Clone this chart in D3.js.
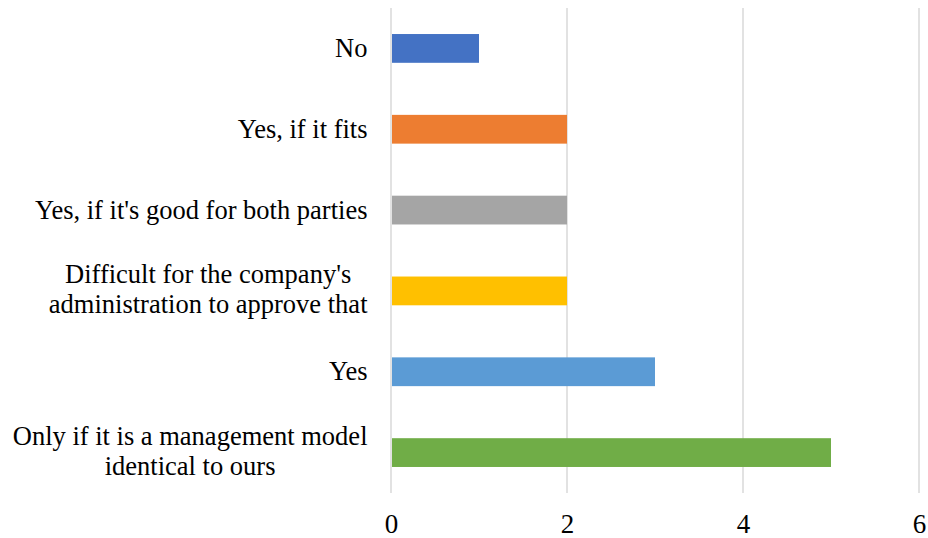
<!DOCTYPE html>
<html>
<head>
<meta charset="utf-8">
<script src="https://cdn.jsdelivr.net/npm/d3@7"></script>
<style>
  html, body { margin: 0; padding: 0; background: #fff; }
</style>
</head>
<body>
<svg id="chart" width="928" height="538"></svg>
<script>
// Survey answers, listed top to bottom
const categories = [
  "No",
  "Yes, if it fits",
  "Yes, if it's good for both parties",
  "Difficult for the company's\nadministration to approve that",
  "Yes",
  "Only if it is a management model\nidentical to ours"
];
const counts = [1, 2, 2, 2, 3, 5];
const barColors = ["#4472C4", "#ED7D31", "#A5A5A5", "#FFC000", "#5B9BD5", "#70AD47"];
const xTicks = [0, 2, 4, 6];

const FONT = '"Liberation Serif", "Times New Roman", serif';

const svg = d3.select("#chart");
const plot = { left: 391, right: 919, top: 8, bottom: 493 };

const x = d3.scaleLinear().domain([0, 6]).range([plot.left, plot.right]);
const y = d3.scaleBand()
  .domain(categories)
  .range([plot.top, plot.bottom])
  .paddingInner(0.644)
  .paddingOuter(0.322);

// vertical gridlines
svg.append("g")
  .selectAll("line")
  .data(xTicks)
  .join("line")
  .attr("x1", d => x(d)).attr("x2", d => x(d))
  .attr("y1", plot.top).attr("y2", plot.bottom)
  .attr("stroke", "#d9d9d9")
  .attr("stroke-width", 1.5);

// bars
svg.append("g")
  .selectAll("rect")
  .data(categories)
  .join("rect")
  .attr("x", x(0) + 1)
  .attr("y", d => y(d))
  .attr("width", (d, i) => x(counts[i]) - x(0) - 1)
  .attr("height", y.bandwidth())
  .attr("fill", (d, i) => barColors[i]);

// category labels: each block right-aligned, lines centred on one another
const fontSize = 26.5;
const lineH = 30;
const labelRight = 367.5;
const labels = svg.append("g").attr("fill", "#000");
categories.forEach(cat => {
  const lines = cat.split("\n");
  const cy = y(cat) + y.bandwidth() / 2 - (lines.length > 1 ? 1.5 : 0);
  const g = labels.append("g");
  const texts = lines.map((ln, i) => g.append("text")
    .style("font-family", FONT)
    .style("font-size", fontSize + "px")
    .attr("text-anchor", "middle")
    .attr("y", cy + (i - (lines.length - 1) / 2) * lineH)
    .attr("dy", "0.33em")
    .text(ln));
  const widths = texts.map(t => t.node().getComputedTextLength());
  const maxW = d3.max(widths);
  texts.forEach(t => t.attr("x", labelRight - maxW / 2));
});

// x axis tick labels
svg.append("g")
  .selectAll("text")
  .data(xTicks)
  .join("text")
  .style("font-family", FONT)
  .style("font-size", "27px")
  .attr("x", d => x(d) + 0.5)
  .attr("y", 533)
  .attr("text-anchor", "middle")
  .text(d => d);
</script>
</body>
</html>
